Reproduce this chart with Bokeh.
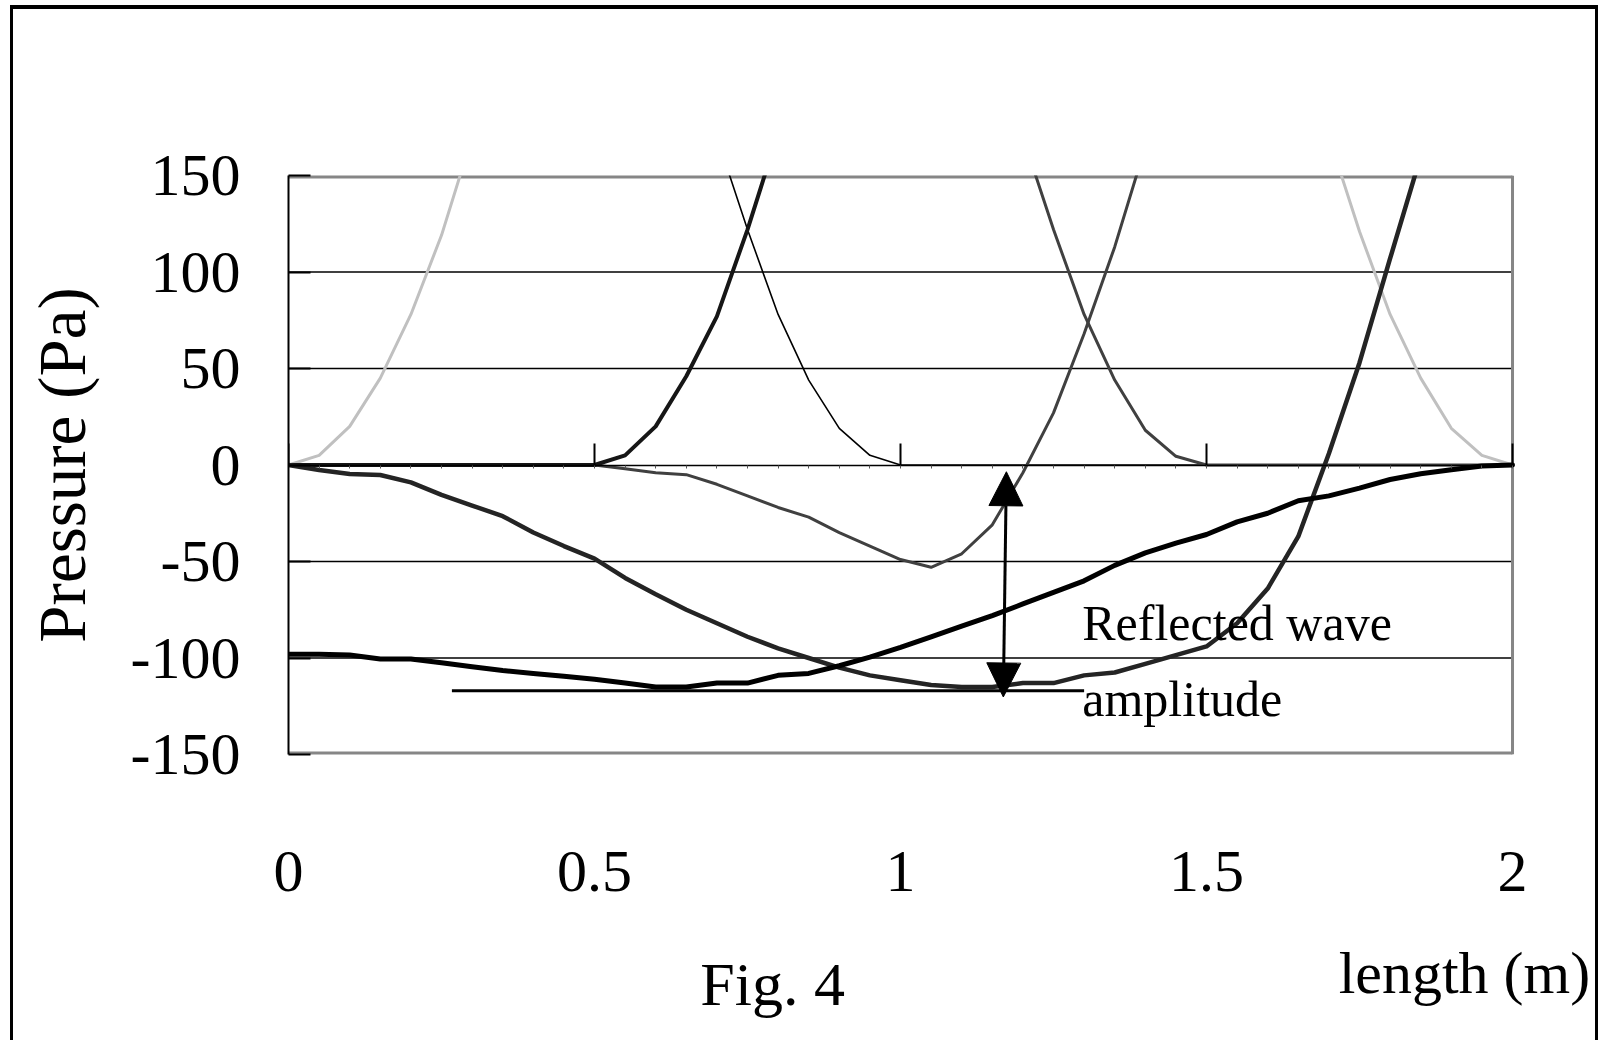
from bokeh.plotting import figure
from bokeh.layouts import column
from bokeh.models import Range1d, FixedTicker, LinearAxis, Label, Arrow, NormalHead
from bokeh.embed import file_html
from bokeh.resources import INLINE

NaN = float("nan")

# ---------------- data ----------------
length_m = [0.00, 0.05, 0.10, 0.15, 0.20, 0.25, 0.30, 0.35, 0.40, 0.45,
            0.50, 0.55, 0.60, 0.65, 0.70, 0.75, 0.80, 0.85, 0.90, 0.95,
            1.00, 1.05, 1.10, 1.15, 1.20, 1.25, 1.30, 1.35, 1.40, 1.45,
            1.50, 1.55, 1.60, 1.65, 1.70, 1.75, 1.80, 1.85, 1.90, 1.95, 2.00]

# light grey pulse (only the parts below 150 Pa are visible)
p_light = [0, 5, 20, 45, 78, 119, 170, NaN, NaN, NaN,
           NaN, NaN, NaN, NaN, NaN, NaN, NaN, NaN, NaN, NaN,
           NaN, NaN, NaN, NaN, NaN, NaN, NaN, NaN, NaN, NaN,
           NaN, NaN, NaN, NaN, 170, 121, 78, 45, 19, 5, 0]

# thick black pulse rising after 0.5 m
p_black_rise = [0, 0, 0, 0, 0, 0, 0, 0, 0, 0,
                0, 5, 20, 46, 77, 122, 172, NaN, NaN, NaN,
                NaN, NaN, NaN, NaN, NaN, NaN, NaN, NaN, NaN, NaN,
                NaN, NaN, NaN, NaN, NaN, NaN, NaN, NaN, NaN, NaN, NaN]

# thin black pulse falling to 0 at 1.0 m
p_black_thin = [NaN, NaN, NaN, NaN, NaN, NaN, NaN, NaN, NaN, NaN,
                NaN, NaN, NaN, NaN, 170, 122, 78, 44, 19, 5,
                0, 0, 0, 0, 0, 0, 0, 0, 0, 0,
                0, 0, 0, 0, 0, 0, 0, 0, 0, 0, 0]

# dark grey: reflected dip then rising front
p_grey_reflect = [0, 0, 0, 0, 0, 0, 0, 0, 0, 0,
                  0, -2, -4, -5, -10, -16, -22, -27, -35, -42,
                  -49, -53, -46, -31, -4, 27, 68, 113, 165, NaN,
                  NaN, NaN, NaN, NaN, NaN, NaN, NaN, NaN, NaN, NaN, NaN]

# dark grey pulse falling to 0 at 1.5 m
p_grey_fall = [NaN, NaN, NaN, NaN, NaN, NaN, NaN, NaN, NaN, NaN,
               NaN, NaN, NaN, NaN, NaN, NaN, NaN, NaN, NaN, NaN,
               NaN, NaN, NaN, NaN, 170, 122, 78, 44, 18, 4.5,
               0, 0, 0, 0, 0, 0, 0, 0, 0, 0, 0]

# thick dark curve from 0 down to about -115 and back up
p_dark_wave = [0, -2.6, -4.7, -5.2, -9, -15.5, -21, -26.5, -35, -42,
               -48.5, -58.5, -67, -75, -82, -89, -95, -100, -105, -109,
               -111.5, -114, -115, -115, -113, -113, -109, -107.5, -103, -98.5,
               -94, -82, -64, -37, 6, 53, 107, 160, NaN, NaN, NaN]

# thick black curve starting near -98
p_black_wave = [-98, -98, -98.5, -100.5, -100.5, -102.5, -104.5, -106.5, -108, -109.5,
                -111, -113, -115, -115, -113, -113, -109, -108, -104, -99.5,
                -94.5, -89, -83.5, -78, -72, -66, -60, -52, -45.5, -40.5,
                -36, -29.5, -25, -18.5, -16, -12, -7.5, -4.5, -2.5, -0.5, 0]

x_ticks = [0, 0.5, 1, 1.5, 2]
x_tick_labels = ["0", "0.5", "1", "1.5", "2"]
x_minor_ticks = length_m
y_ticks = [-150, -100, -50, 0, 50, 100, 150]
y_tick_labels = ["-150", "-100", "-50", "0", "50", "100", "150"]
grid_lines = [-100, -50, 50, 100]

# axis extents of the plotting area
x_min, x_max = 0, 2
y_min, y_max = -150, 150
# the canvas continues to the right of x_max so the x title can stick out
x_view_end = 2.1356

# annotation placement (data units)
amp_line_x = [0.267, 1.30]
amp_line_y = [-117, -117]
arrow_x = (1.168, 1.173)
arrow_y = (-120.2, -3.5)
note_x = 1.297
note_y = (-82, -121)
fig_caption = (0.791, 0.56)
x_title = (2.127, 0.67)

FONT = "Liberation Serif"
W = 1582
BORDER_GREY = "#868686"

xr = Range1d(x_min, x_view_end)

p = figure(width=W, height=930, output_backend="svg", toolbar_location=None,
           x_range=xr, y_range=Range1d(y_min, y_max),
           x_axis_type=None,
           min_border_left=275, min_border_top=166, min_border_right=0, min_border_bottom=185,
           background_fill_color="white", border_fill_color="white")
p.outline_line_color = None
p.xgrid.visible = False
p.ygrid.visible = False

# y axis
yax = p.yaxis[0]
yax.ticker = FixedTicker(ticks=y_ticks, minor_ticks=[])
yax.major_label_overrides = {t: s for t, s in zip(y_ticks, y_tick_labels)}
yax.axis_line_color = "black"
yax.axis_line_width = 2
yax.major_tick_in = 22
yax.major_tick_out = 0
yax.major_tick_line_width = 2
yax.major_tick_line_color = "black"
yax.minor_tick_line_color = None
yax.major_label_standoff = 48
yax.major_label_text_font = FONT
yax.major_label_text_font_size = "60px"
yax.major_label_text_color = "black"
yax.axis_label = "Pressure (Pa)"
yax.axis_label_text_font = FONT
yax.axis_label_text_font_size = "67px"
yax.axis_label_text_font_style = "normal"
yax.axis_label_text_color = "black"
yax.axis_label_standoff = 29

# horizontal grid lines, limited to the plotting area
p.segment(x0=[x_min] * len(grid_lines), x1=[x_max] * len(grid_lines),
          y0=grid_lines, y1=grid_lines, line_color="black", line_width=1.3)

# grey plot-area border: top and bottom (half hidden at the frame edge) and right
p.segment(x0=[x_min, x_min], x1=[x_max, x_max], y0=[y_max, y_min], y1=[y_max, y_min],
          line_color=BORDER_GREY, line_width=6)
p.segment(x0=[x_max], x1=[x_max], y0=[y_min], y1=[y_max],
          line_color=BORDER_GREY, line_width=3)

# x axis drawn across y = 0
zero_axis = LinearAxis(fixed_location=0, bounds=(x_min, x_max),
                       ticker=FixedTicker(ticks=x_ticks, minor_ticks=x_minor_ticks))
zero_axis.axis_line_color = "black"
zero_axis.axis_line_width = 1.5
zero_axis.major_tick_in = 22
zero_axis.major_tick_out = 0
zero_axis.major_tick_line_width = 2
zero_axis.major_tick_line_color = "black"
zero_axis.minor_tick_in = 0
zero_axis.minor_tick_out = 3
zero_axis.minor_tick_line_color = "#555555"
zero_axis.major_label_text_font_size = "1px"
zero_axis.major_label_text_color = None
zero_axis.major_label_standoff = 0
p.add_layout(zero_axis, "below")

# x tick labels at the bottom
label_axis = LinearAxis(ticker=FixedTicker(ticks=x_ticks, minor_ticks=[]))
label_axis.major_label_overrides = {t: s for t, s in zip(x_ticks, x_tick_labels)}
label_axis.axis_line_color = None
label_axis.major_tick_line_color = None
label_axis.minor_tick_line_color = None
label_axis.major_tick_in = 0
label_axis.major_tick_out = 0
label_axis.major_label_standoff = 97
label_axis.major_label_text_font = FONT
label_axis.major_label_text_font_size = "60px"
label_axis.major_label_text_color = "black"
p.add_layout(label_axis, "below")

# series
kw = dict(line_join="round", line_cap="round")
p.line(length_m, p_light, line_color="#c0c0c0", line_width=3, **kw)
p.line(length_m, p_black_thin, line_color="black", line_width=1.6, **kw)
p.line(length_m, p_grey_fall, line_color="#404040", line_width=3, **kw)
p.line(length_m, p_grey_reflect, line_color="#404040", line_width=3, **kw)
p.line(length_m, p_black_rise, line_color="#161616", line_width=4, **kw)
p.line(length_m, p_dark_wave, line_color="#242424", line_width=4.5, **kw)
p.line(length_m, p_black_wave, line_color="black", line_width=5, **kw)

# annotation: amplitude reference line and arrow
p.line(amp_line_x, amp_line_y, line_color="black", line_width=3)
p.add_layout(Arrow(start=NormalHead(size=34, fill_color="black", line_color="black"),
                   end=NormalHead(size=34, fill_color="black", line_color="black"),
                   x_start=arrow_x[0], y_start=arrow_y[0], x_end=arrow_x[1], y_end=arrow_y[1],
                   line_color="black", line_width=3))
p.add_layout(Label(x=note_x, y=note_y[0], text="Reflected wave", text_font=FONT,
                   text_font_size="50px", text_color="black", text_baseline="alphabetic"))
p.add_layout(Label(x=note_x, y=note_y[1], text="amplitude", text_font=FONT,
                   text_font_size="50px", text_color="black", text_baseline="alphabetic"))

# caption strip below the chart (same horizontal scale as the chart)
cap = figure(width=W, height=101, output_backend="svg", toolbar_location=None,
             x_range=xr, y_range=Range1d(0, 1),
             x_axis_type=None, y_axis_type=None,
             min_border_left=275, min_border_right=0, min_border_top=0, min_border_bottom=0,
             background_fill_color="white", border_fill_color="white")
cap.outline_line_color = None
cap.add_layout(Label(x=fig_caption[0], y=fig_caption[1], text="Fig. 4", text_font=FONT,
                     text_font_size="62px", text_color="black", text_align="center",
                     text_baseline="alphabetic"))
cap.add_layout(Label(x=x_title[0], y=x_title[1], text="length (m)", text_font=FONT,
                     text_font_size="60px", text_color="black", text_align="right",
                     text_baseline="alphabetic"))

layout = column(p, cap, styles={"margin-left": "10px", "margin-top": "5px",
                                "border-top": "4px solid black",
                                "border-left": "3px solid black",
                                "border-right": "3px solid black"})

open("out.html", "w").write(file_html(layout, INLINE))
